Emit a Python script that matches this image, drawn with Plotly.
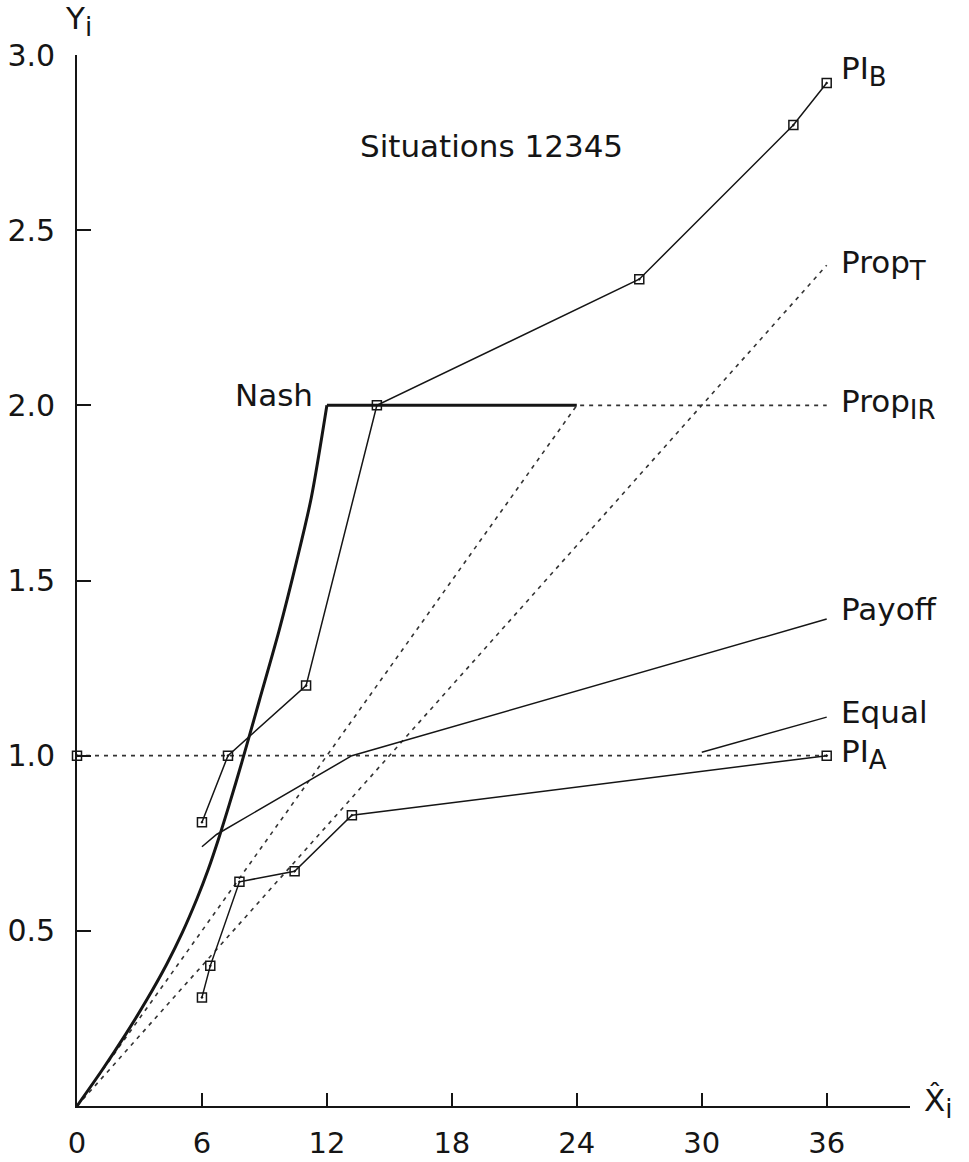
import plotly.graph_objects as go

# Nash solution curve, then its flat segment at Y = 2
nash_x = [0, 1.2, 2.35, 3.35, 4.3, 5.05, 5.75, 6.3, 6.8, 7.3, 7.9, 8.75, 9.7, 10.55, 11.25, 12.0, 24.0]
nash_y = [0, 0.102, 0.206, 0.303, 0.404, 0.494, 0.59, 0.675, 0.763, 0.858, 0.978, 1.156, 1.356, 1.556, 1.736, 2.0, 2.0]
NASH_BEND = 15  # index where the curve meets the flat segment

# Observed PI paths for players B and A
pib_x = [6.0, 7.25, 11.0, 14.4, 27.0, 34.4, 36.0]
pib_y = [0.81, 1.0, 1.2, 2.0, 2.36, 2.8, 2.92]
pia_x = [6.0, 6.4, 7.8, 10.45, 13.2, 36.0]
pia_y = [0.31, 0.40, 0.64, 0.67, 0.83, 1.0]

# Proportional solutions
propt_x = [0, 36]
propt_y = [0, 2.4]
propir_x = [0, 24, 36]
propir_y = [0, 2.0, 2.0]

# Payoff and Equal solutions
payoff_x = [6.0, 6.3, 6.7, 13.2, 36.0]
payoff_y = [0.74, 0.755, 0.775, 1.0, 1.39]
equal_x = [30.0, 36.0]
equal_y = [1.01, 1.11]

# Reference level Y = 1
ref_x = [0, 36]
ref_y = [1.0, 1.0]

x_ticks = [0, 6, 12, 18, 24, 30, 36]
y_ticks = [0.5, 1.0, 1.5, 2.0, 2.5, 3.0]
y_ticktext = ["0.5", "1.0", "1.5", "2.0", "2.5", "3.0"]

INK = "#151515"
DOT = "#333333"
FONT = "DejaVu Sans"
DASH = "4px,5px"
MARK = dict(symbol="square-open-dot", size=9, color=INK, line=dict(width=1.5, color=INK))

fig = go.Figure()

def line(x, y, width=1.5, color=INK, dash="solid", markers=False, shape="linear"):
    fig.add_trace(go.Scatter(
        x=x, y=y,
        mode="lines+markers" if markers else "lines",
        line=dict(color=color, width=width, dash=dash, shape=shape, smoothing=0.8),
        marker=MARK,
        cliponaxis=False, showlegend=False, hoverinfo="skip",
    ))

line(ref_x, ref_y, width=1.6, color=DOT, dash=DASH)
fig.add_trace(go.Scatter(x=[ref_x[0]], y=[ref_y[0]], mode="markers", marker=MARK,
                         cliponaxis=False, showlegend=False, hoverinfo="skip"))
line(propt_x, propt_y, width=1.6, color=DOT, dash=DASH)
line(propir_x, propir_y, width=1.6, color=DOT, dash=DASH)
line(payoff_x, payoff_y)
line(equal_x, equal_y)
line(nash_x[:NASH_BEND + 1], nash_y[:NASH_BEND + 1], width=3.0, shape="spline")
line(nash_x[NASH_BEND:], nash_y[NASH_BEND:], width=3.0)
line(pib_x, pib_y, markers=True)
line(pia_x, pia_y, markers=True)

SUB = '<sub><span style="font-size:26px">{}</span></sub>'
ann = dict(font=dict(family=FONT, size=31, color=INK), showarrow=False)
labels = [
    (36.6, 2.955, "PI" + SUB.format("B")),
    (36.6, 2.40, "Prop" + SUB.format("T")),
    (36.6, 2.005, "Prop" + SUB.format("IR")),
    (36.6, 1.42, "Payoff"),
    (36.6, 1.125, "Equal"),
    (36.6, 1.005, "PI" + SUB.format("A")),
]
for x, y, t in labels:
    fig.add_annotation(x=x, y=y, text=t, xanchor="left", yanchor="middle", **ann)

fig.add_annotation(x=11.45, y=2.03, text="Nash", xanchor="right", yanchor="middle", **ann)
fig.add_annotation(x=19.9, y=2.74, text="Situations 12345", xanchor="center", yanchor="middle", **ann)

# Axis titles at the ends of the axes (paper coordinates, outside the plot area)
PLOT_W = 969 - 77 - 59
PLOT_H = 1162 - 55 - 56
fig.add_annotation(xref="paper", yref="paper", x=(63 - 77) / PLOT_W, y=1 + (55 - 21) / PLOT_H,
                   text="Y" + SUB.format("i"), xanchor="left", yanchor="middle", **ann)
fig.add_annotation(xref="paper", yref="paper", x=(922 - 77) / PLOT_W, y=-(1103 - 1106) / PLOT_H,
                   text="X\u0302" + SUB.format("i"), xanchor="left", yanchor="middle", **ann)

fig.update_layout(
    width=969, height=1162,
    margin=dict(l=77, r=59, t=55, b=56),
    paper_bgcolor="white", plot_bgcolor="white",
    font=dict(family=FONT, size=30, color=INK),
    xaxis=dict(range=[0, 40.0], tickvals=x_ticks, ticks="inside", ticklen=13, tickwidth=1.5,
               tickcolor=INK, showline=True, linecolor=INK, linewidth=1.6, showgrid=False,
               zeroline=False, tickfont=dict(family=FONT, size=29, color=INK),
               ticklabelstandoff=10, automargin=False),
    yaxis=dict(range=[0, 3.0], tickvals=y_ticks, ticktext=y_ticktext, ticks="inside", ticklen=14,
               tickwidth=1.5, tickcolor=INK, showline=True, linecolor=INK, linewidth=1.6,
               showgrid=False, zeroline=False, tickfont=dict(family=FONT, size=30, color=INK),
               ticklabelstandoff=14, automargin=False),
)

fig.write_html("out.html")
